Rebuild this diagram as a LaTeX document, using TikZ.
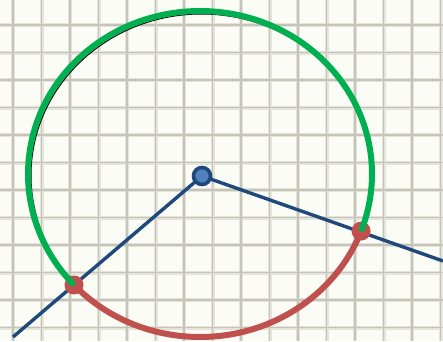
\documentclass[tikz,border=0pt]{standalone}
\usetikzlibrary{calc}
\begin{document}
\begin{tikzpicture}[x=1pt,y=1pt,
  gridwide/.style={draw=gridlight,line width=4pt},
  gridnarrow/.style={draw=griddark,line width=1.2pt},
  ray/.style={draw=raycol,line width=3.4pt},
  reddot/.style={circle,fill=arcred,inner sep=0pt,minimum size=19pt},
  bluedot/.style={circle,fill=dotfill,draw=raycol,line width=3.6pt,inner sep=0pt,minimum size=17pt},
  greenarc/.style={draw=arcgreen,line width=6pt},
  redarc/.style={draw=arcred,line width=6pt}]
\definecolor{bg}{HTML}{FCFCF6}
\definecolor{gridlight}{HTML}{E4E4DA}
\definecolor{griddark}{HTML}{C4C4B8}
\definecolor{raycol}{HTML}{1F497D}
\definecolor{dotfill}{HTML}{4F81BD}
\definecolor{arcgreen}{HTML}{00B050}
\definecolor{arcred}{HTML}{C0504D}
\useasboundingbox (0,0) rectangle (443,341);
\fill[bg] (0,0) rectangle (443,341);
% grid
\foreach \k in {0,...,15} {
  \draw[gridwide] ({13+28.5*\k},0) -- ({13+28.5*\k},341);
}
\foreach \k in {0,...,11} {
  \draw[gridwide] (0,{341-25-27.5*\k}) -- (443,{341-25-27.5*\k});
}
\foreach \k in {0,...,15} {
  \draw[gridnarrow] ({13+28.5*\k},0) -- ({13+28.5*\k},341);
}
\foreach \k in {0,...,11} {
  \draw[gridnarrow] (0,{341-25-27.5*\k}) -- (443,{341-25-27.5*\k});
}
% thin black circle
\draw[black,line width=1pt] (201.5,165.5) ellipse[x radius=170.5,y radius=161.5];
% points
\coordinate (O) at (200,167);
\coordinate (C) at (202,165);
\coordinate (endL) at (13,4);
\coordinate (endR) at (443,80);
\coordinate (pL) at ($(O)+(222.9:172 and 163)$);
\coordinate (pR) at ($(O)+(-20.5:172 and 163)$);
% rays
\draw[ray] (C) -- (endL);
\draw[ray] (C) -- (endR);
% red arc
\draw[redarc] (pL) arc[start angle=222.9,end angle=339.5,x radius=172,y radius=163];
\node[reddot] (a) at (pL) {};
\node[reddot] (b) at (pR) {};
% green arc
\draw[greenarc] (a.center) arc[start angle=222.9,end angle=-20.5,x radius=172,y radius=163];
\node[bluedot] (c) at (C) {};
\end{tikzpicture}
\end{document}
